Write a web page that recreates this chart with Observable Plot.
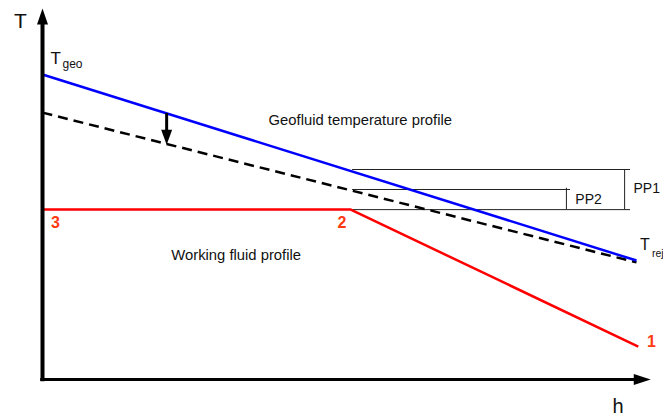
<!DOCTYPE html>
<html>
<head>
<meta charset="utf-8">
<script src="https://cdn.jsdelivr.net/npm/d3@7"></script>
<script src="https://cdn.jsdelivr.net/npm/@observablehq/plot@0.6"></script>
<style>
  html, body { margin: 0; padding: 0; background: #fff; }
  svg { display: block; font-family: "Liberation Sans", Arial, sans-serif; }
</style>
</head>
<body>
<div id="chart"></div>
<script>
// Schematic units: h (enthalpy) 0..100, T (temperature) 0..100
const geoH = [0, 100];
const geoT = [100, 39.0];            // geofluid temperature profile (blue)
const geoAltH = [0, 100];
const geoAltT = [87.5, 38.4];        // alternative geofluid profile (dashed)
const wfH = [0, 51.9, 100.3];
const wfT = [55.7, 55.7, 10.8];      // working fluid profile (red)
const wfLabels = ["3", "2", "1"];

// pinch point guide levels
const ppLevelT = [68.85, 62.3, 55.7];
const ppLevelH1 = [52.2, 52.2, 52.2];
const ppLevelH2 = [99.0, 88.9, 99.0];
const ppNames = ["PP1", "PP2"];
const ppBarH = [98.0, 88.2];
const ppBarT1 = [55.7, 55.7];
const ppBarT2 = [68.85, 62.7];

const zip = (hs, ts) => hs.map((h, i) => ({h, T: ts[i]}));

const arrowUp = {draw(c) { c.moveTo(0, 0); c.lineTo(-5.5, 16); c.lineTo(5.5, 16); c.closePath(); }};
const arrowRight = {draw(c) { c.moveTo(0, 0); c.lineTo(-17, -5.5); c.lineTo(-17, 5.5); c.closePath(); }};
const arrowDown = {draw(c) { c.moveTo(0, 0); c.lineTo(-5.5, -15); c.lineTo(5.5, -15); c.closePath(); }};

const red = "#ff0000";
const numColor = "#ff3a12";
const font = "Liberation Sans, Arial, sans-serif";

const plot = Plot.plot({
  width: 663,
  height: 419,
  margin: 0,
  style: {background: "#fff", fontFamily: font},
  x: {domain: [0, 100], range: [42, 636], axis: null},
  y: {domain: [0, 100], range: [379, 74], axis: null},
  marks: [
    // pinch point guides
    Plot.ruleY(ppLevelT.map((T, i) => ({T, h1: ppLevelH1[i], h2: ppLevelH2[i]})),
      {y: "T", x1: "h1", x2: "h2", stroke: "#222", strokeWidth: 1}),
    Plot.ruleX(ppBarH.map((h, i) => ({h, T1: ppBarT1[i], T2: ppBarT2[i]})),
      {x: "h", y1: "T1", y2: "T2", stroke: "#222", strokeWidth: 1}),
    Plot.text([{h: 99.5, T: 61.0, t: ppNames[0]}, {h: 89.7, T: 57.4, t: ppNames[1]}],
      {x: "h", y: "T", text: "t", textAnchor: "start", lineAnchor: "bottom", fontSize: 14, fill: "#111"}),

    // working fluid (red)
    Plot.line(zip(wfH, wfT), {x: "h", y: "T", stroke: red, strokeWidth: 2.5, strokeLinecap: "butt"}),
    // dashed geofluid
    Plot.line(zip(geoAltH, geoAltT), {x: "h", y: "T", stroke: "#000", strokeWidth: 2.5, strokeDasharray: "10,6", strokeLinecap: "butt"}),
    // blue geofluid
    Plot.line(zip(geoH, geoT), {x: "h", y: "T", stroke: "#0000ff", strokeWidth: 2.5, strokeLinecap: "butt"}),

    // down arrow between profiles
    Plot.ruleX([{h: 20.9, T1: 87.2, T2: 80.5}], {x: "h", y1: "T1", y2: "T2", stroke: "#000", strokeWidth: 3}),
    Plot.dot([{h: 20.9, T: 77.0}], {x: "h", y: "T", symbol: arrowDown, fill: "#000", stroke: "none"}),

    // axes
    Plot.ruleX([0], {y1: -0.7, y2: 117, stroke: "#000", strokeWidth: 4}),
    Plot.dot([{h: 0, T: 121.6}], {x: "h", y: "T", symbol: arrowUp, fill: "#000", stroke: "none"}),
    Plot.ruleY([0], {x1: -0.3, x2: 100, stroke: "#000", strokeWidth: 3}),
    Plot.dot([{h: 102.4, T: 0}], {x: "h", y: "T", symbol: arrowRight, fill: "#000", stroke: "none"}),
    Plot.text(["T"], {x: -3.7, y: 115.4, textAnchor: "middle", lineAnchor: "bottom", fontSize: 21, fill: "#111"}),
    Plot.text(["h"], {x: 96.9, y: -11.1, textAnchor: "middle", lineAnchor: "bottom", fontSize: 20, fill: "#111"}),

    // T_geo and T_rej
    Plot.text(["T"], {x: 1.35, y: 103.6, textAnchor: "start", lineAnchor: "bottom", fontSize: 17, fill: "#111"}),
    Plot.text(["geo"], {x: 3.37, y: 102.0, textAnchor: "start", lineAnchor: "bottom", fontSize: 12, fill: "#111"}),
    Plot.text(["T"], {x: 100.6, y: 42.6, textAnchor: "start", lineAnchor: "bottom", fontSize: 16, fill: "#111"}),
    Plot.text(["rej"], {x: 102.6, y: 40.3, textAnchor: "start", lineAnchor: "bottom", fontSize: 10.5, fill: "#111"}),

    // profile captions
    Plot.text(["Geofluid temperature profile"], {x: 53.5, y: 83.6, textAnchor: "middle", lineAnchor: "bottom", fontSize: 14.8, fill: "#111"}),
    Plot.text(["Working fluid profile"], {x: 32.6, y: 39.3, textAnchor: "middle", lineAnchor: "bottom", fontSize: 14.8, fill: "#111"}),

    // state point numbers
    Plot.text([{h: 2.2, T: 49.8, t: wfLabels[0]}, {h: 50.4, T: 49.8, t: wfLabels[1]}, {h: 102.5, T: 10.8, t: wfLabels[2]}],
      {x: "h", y: "T", text: "t", textAnchor: "middle", lineAnchor: "bottom", fontSize: 16, fontWeight: "bold", fill: numColor})
  ]
});
document.getElementById("chart").appendChild(plot);
</script>
</body>
</html>
